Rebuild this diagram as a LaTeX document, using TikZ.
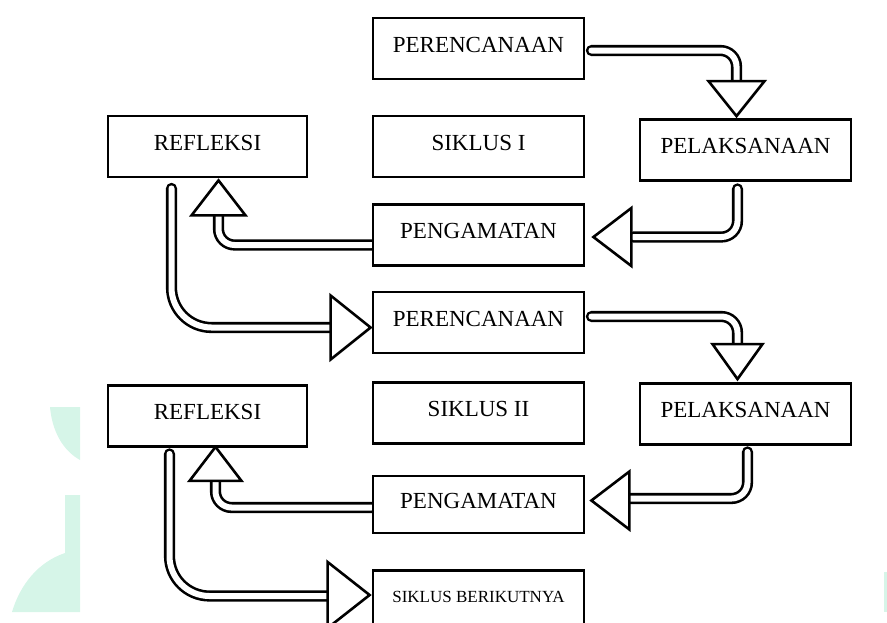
\documentclass[tikz,border=0pt]{standalone}
\usepackage{fontspec}
\setmainfont{Liberation Serif}
\usepackage{xcolor}
\usetikzlibrary{backgrounds}

\definecolor{wmark}{RGB}{214,245,232}

\begin{document}
\begin{tikzpicture}[
  x=0.5pt, y=-0.5pt,
  font=\fontsize{11.5}{13}\selectfont,
  box/.style={draw, line width=1.4pt, fill=white, minimum width=105.5pt,
              minimum height=30.5pt, text depth=4pt, inner sep=0pt},
  refbox/.style={box, minimum width=99.5pt},
  shaft/.style={draw, line width=1.3pt, double=white, double distance=3pt,
                line cap=round, rounded corners=8pt},
  head/.style={draw, line width=1.3pt, fill=white, line join=miter}
]
  \useasboundingbox (0,0) rectangle (887,622);

  % siklus I
  \node[box] (per1) at (478.5,48.5) {PERENCANAAN};
  \node[refbox] (ref1) at (207.5,146.5) {REFLEKSI};
  \node[box] (sik1) at (478.5,146.5) {SIKLUS I};
  \node[box] (pel1) at (745.5,150) {PELAKSANAAN};
  \node[box] (peng1) at (478.5,235) {PENGAMATAN};

  % siklus II
  \node[box] (per2) at (478.5,322.5) {PERENCANAAN};
  \node[refbox] (ref2) at (207.5,416) {REFLEKSI};
  \node[box] (sik2) at (478.5,413) {SIKLUS II};
  \node[box] (pel2) at (745.5,414) {PELAKSANAAN};
  \node[box, minimum height=28.5pt] (peng2) at (478.5,504.5) {PENGAMATAN};
  \node[box, font=\fontsize{8.5}{10}\selectfont] (sikb) at (478.5,601)
    {SIKLUS BERIKUTNYA};

  \begin{scope}[on background layer]
    % watermark
    \fill[wmark] (50,407) -- (80,407) -- (80,460)
      .. controls (62,450) and (52,430) .. cycle;
    \fill[wmark] (65,495) -- (80,495) -- (80,612) -- (12,612)
      .. controls (20,585) and (38,562) .. (65,553) -- cycle;
    \fill[wmark] (884,572) rectangle (887,612);

    \draw[shaft] ([shift={(6,2)}]per1.east) -| ([shift={(-9,-32)}]pel1.north);
    \draw[head] ([shift={(-9,-2)}]pel1.north) -- ++(-28,-35) -- ++(56,0) -- cycle;

    \draw[shaft] ([shift={(-8,7)}]pel1.south) |- ([shift={(48,2)}]peng1.east);
    \draw[head] ([shift={(8,2)}]peng1.east) -- ++(38,-29) -- ++(0,58) -- cycle;

    \draw[shaft] ([shift={(0,10)}]peng1.west) -| ([shift={(11,33)}]ref1.south);
    \draw[head] ([shift={(11,2)}]ref1.south) -- ++(-27,35) -- ++(54,0) -- cycle;

    \draw[shaft, rounded corners=20pt] ([shift={(-36,10)}]ref1.south)
      |- ([shift={(-36,5)}]per2.west);
    \draw[head] ([shift={(-1,5)}]per2.west) -- ++(-40,-32) -- ++(0,64) -- cycle;

    \draw[shaft] ([shift={(6,-6)}]per2.east) -| ([shift={(-8,-33)}]pel2.north);
    \draw[head] ([shift={(-8,-3)}]pel2.north) -- ++(-25,-35) -- ++(50,0) -- cycle;

    \draw[shaft] ([shift={(2,6)}]pel2.south) |- ([shift={(42,-6)}]peng2.east);
    \draw[head] ([shift={(6,-4)}]peng2.east) -- ++(38,-29) -- ++(0,58) -- cycle;

    \draw[shaft] ([shift={(0,3)}]peng2.west) -| ([shift={(8,30)}]ref2.south);
    \draw[head] ([shift={(8,-1)}]ref2.south) -- ++(-26,34) -- ++(52,0) -- cycle;

    \draw[shaft, rounded corners=20pt] ([shift={(-38,6)}]ref2.south)
      |- ([shift={(-40,-5)}]sikb.west);
    \draw[head] ([shift={(-2,-6)}]sikb.west) -- ++(-42,-33) -- ++(0,66) -- cycle;
  \end{scope}
\end{tikzpicture}
\end{document}
